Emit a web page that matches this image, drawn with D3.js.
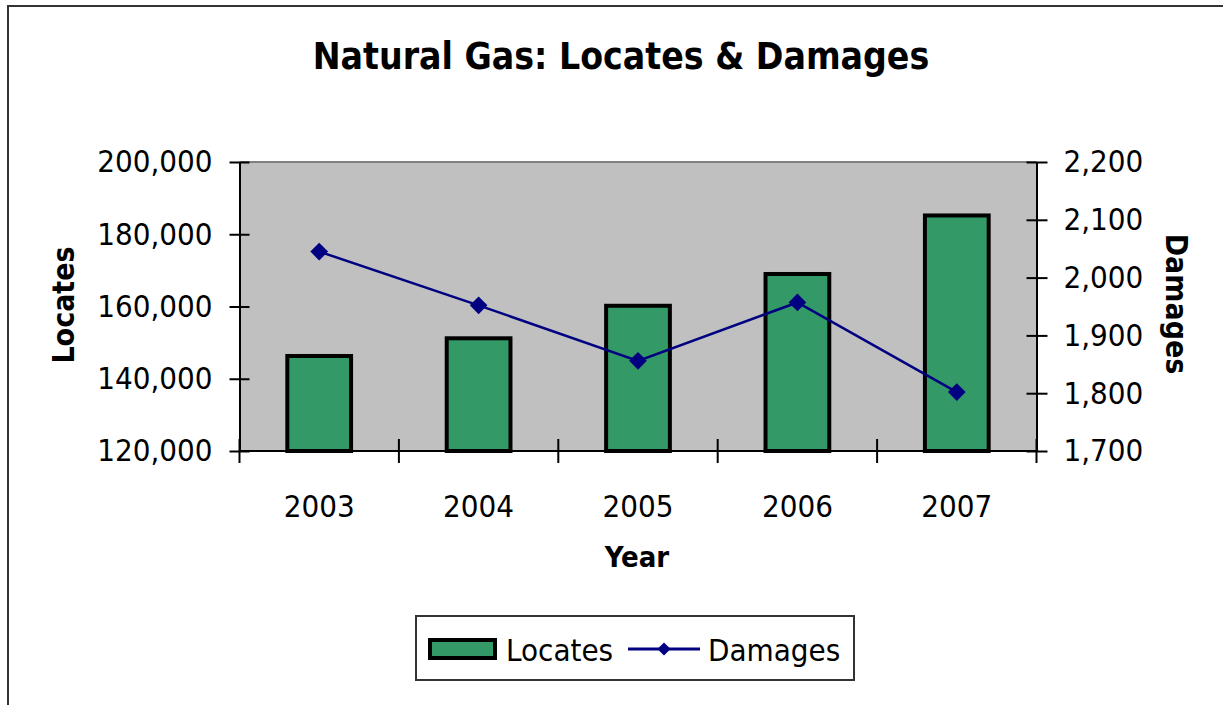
<!DOCTYPE html>
<html>
<head>
<meta charset="utf-8">
<script src="https://cdn.jsdelivr.net/npm/d3@7"></script>
<style>
    body { margin: 0; background: white; }
    svg { display: block; }
    text { font-family: "DejaVu Sans Condensed", "DejaVu Sans", sans-serif; font-stretch: condensed; fill: black; }
</style>
</head>
<body>
<div class="js-chart"></div>
<script>
'use strict';

const years = ["2003", "2004", "2005", "2006", "2007"];
const locates = [146300, 151200, 160200, 169000, 185200];
const damages = [2045, 1952, 1856, 1957, 1802];
const locatesTicks = [120000, 140000, 160000, 180000, 200000];
const damagesTicks = [1700, 1800, 1900, 2000, 2100, 2200];

function drawChart() {

    const svgWidth = 1223;
    const svgHeight = 705;

    const plotLeft = 239.5;
    const plotRight = 1036.5;
    const plotTop = 162;
    const plotBottom = 451;

    const green = "#339966";
    const navy = "#000080";

    let svg = d3.select(".js-chart")
                .append("svg")
                .attr("width", svgWidth)
                .attr("height", svgHeight);

    svg.append("rect")
        .attr("width", svgWidth)
        .attr("height", svgHeight)
        .attr("fill", "white");

    // chart border (only top and left show in the picture)
    svg.append("path")
        .attr("d", `M8,${svgHeight} L8,6 L${svgWidth},6`)
        .attr("fill", "none")
        .attr("stroke", "#333")
        .attr("stroke-width", 2);

    //Create scale functions
    let xScale = d3.scaleBand()
                    .domain(years)
                    .range([plotLeft, plotRight])
                    .paddingInner(0.6)
                    .paddingOuter(0.3);

    let yLeft = d3.scaleLinear()
                    .domain([120000, 200000])
                    .range([plotBottom, plotTop]);

    let yRight = d3.scaleLinear()
                    .domain([1700, 2200])
                    .range([plotBottom, plotTop]);

    // plot area
    svg.append("rect")
        .attr("x", plotLeft)
        .attr("y", plotTop)
        .attr("width", plotRight - plotLeft)
        .attr("height", plotBottom - plotTop)
        .attr("fill", "#c0c0c0");

    svg.append("line")
        .attr("x1", plotLeft)
        .attr("x2", plotRight)
        .attr("y1", plotTop)
        .attr("y2", plotTop)
        .attr("stroke", "#808080")
        .attr("stroke-width", 2);

    // bars for locates
    svg.selectAll("rect.bar")
       .data(locates)
       .enter()
       .append("rect")
       .classed("bar", true)
       .attr("x", function(d, i) {
            return xScale(years[i]);
       })
       .attr("y", function(d) {
            return yLeft(d);
       })
       .attr("width", xScale.bandwidth())
       .attr("height", function(d) {
            return plotBottom - yLeft(d);
       })
       .attr("fill", green)
       .attr("stroke", "black")
       .attr("stroke-width", 4);

    // left axis
    let leftAxis = svg.append("g")
        .attr("transform", `translate(${plotLeft},0)`)
        .call(d3.axisLeft(yLeft)
                .tickValues(locatesTicks)
                .tickFormat(d3.format(","))
                .tickSizeInner(10)
                .tickSizeOuter(0)
                .tickPadding(17));

    // right axis
    let rightAxis = svg.append("g")
        .attr("transform", `translate(${plotRight},0)`)
        .call(d3.axisRight(yRight)
                .tickValues(damagesTicks)
                .tickFormat(d3.format(","))
                .tickSizeInner(11)
                .tickSizeOuter(0)
                .tickPadding(16));

    // bottom axis, labels only; ticks go between categories
    let bottomAxis = svg.append("g")
        .attr("transform", `translate(0,${plotBottom})`)
        .call(d3.axisBottom(xScale)
                .tickSize(0)
                .tickPadding(44));

    bottomAxis.select(".domain").remove();

    svg.append("line")
        .attr("x1", plotLeft)
        .attr("x2", plotRight)
        .attr("y1", plotBottom)
        .attr("y2", plotBottom)
        .attr("stroke", "black")
        .attr("stroke-width", 2);

    const boundaries = d3.range(years.length + 1).map(function(i) {
        return plotLeft + i * xScale.step();
    });

    svg.selectAll("line.xtick")
       .data(boundaries)
       .enter()
       .append("line")
       .classed("xtick", true)
       .attr("x1", d => d)
       .attr("x2", d => d)
       .attr("y1", plotBottom - 12)
       .attr("y2", plotBottom + 12)
       .attr("stroke", "black")
       .attr("stroke-width", 2);

    // cross tick marks on the value axes
    leftAxis.selectAll(".tick line").attr("x1", 10);
    rightAxis.selectAll(".tick line").attr("x1", -10);

    [leftAxis, rightAxis].forEach(function(axis) {
        axis.select(".domain").attr("stroke-width", 2);
        axis.selectAll(".tick line").attr("stroke-width", 2);
    });

    [leftAxis, rightAxis, bottomAxis].forEach(function(axis) {
        axis.attr("font-family", null).attr("font-size", null);
        axis.selectAll("text")
            .attr("font-size", "31px");
    });

    // damages line
    let line = d3.line()
        .x(function(d, i) {
            return xScale(years[i]) + xScale.bandwidth() / 2;
        })
        .y(function(d) {
            return yRight(d);
        });

    svg.append("path")
        .datum(damages)
        .attr("d", line)
        .attr("fill", "none")
        .attr("stroke", navy)
        .attr("stroke-width", 2.5);

    const diamond = d3.symbol().type(d3.symbolDiamond2).size(200);
    const smallDiamond = d3.symbol().type(d3.symbolDiamond2).size(110);

    svg.selectAll("path.marker")
       .data(damages)
       .enter()
       .append("path")
       .classed("marker", true)
       .attr("d", diamond)
       .attr("transform", function(d, i) {
            let cx = xScale(years[i]) + xScale.bandwidth() / 2;
            return `translate(${cx},${yRight(d)})`;
       })
       .attr("fill", navy);

    // titles
    svg.append("text")
        .text("Natural Gas: Locates & Damages")
        .attr("x", 621)
        .attr("y", 69)
        .attr("text-anchor", "middle")
        .attr("font-size", "37px")
        .attr("font-weight", "bold");

    svg.append("text")
        .text("Year")
        .attr("x", 637)
        .attr("y", 567)
        .attr("text-anchor", "middle")
        .attr("font-size", "29px")
        .attr("font-weight", "bold");

    svg.append("text")
        .text("Locates")
        .attr("transform", "translate(74,305) rotate(-90)")
        .attr("text-anchor", "middle")
        .attr("font-size", "30px")
        .attr("font-weight", "bold");

    svg.append("text")
        .text("Damages")
        .attr("transform", "translate(1166,304) rotate(90)")
        .attr("text-anchor", "middle")
        .attr("font-size", "30px")
        .attr("font-weight", "bold");

    // legend
    let legend = svg.append("g");

    legend.append("rect")
        .attr("x", 416)
        .attr("y", 616)
        .attr("width", 438)
        .attr("height", 64)
        .attr("fill", "white")
        .attr("stroke", "#333")
        .attr("stroke-width", 2);

    legend.append("rect")
        .attr("x", 430)
        .attr("y", 640)
        .attr("width", 65)
        .attr("height", 18)
        .attr("fill", green)
        .attr("stroke", "black")
        .attr("stroke-width", 4);

    legend.append("text")
        .text("Locates")
        .attr("x", 506)
        .attr("y", 661)
        .attr("font-size", "31px");

    legend.append("line")
        .attr("x1", 628)
        .attr("x2", 700)
        .attr("y1", 649)
        .attr("y2", 649)
        .attr("stroke", navy)
        .attr("stroke-width", 3);

    legend.append("path")
        .attr("d", smallDiamond)
        .attr("transform", "translate(664,649)")
        .attr("fill", navy);

    legend.append("text")
        .text("Damages")
        .attr("x", 708)
        .attr("y", 661)
        .attr("font-size", "31px");
}

drawChart();
</script>
</body>
</html>
